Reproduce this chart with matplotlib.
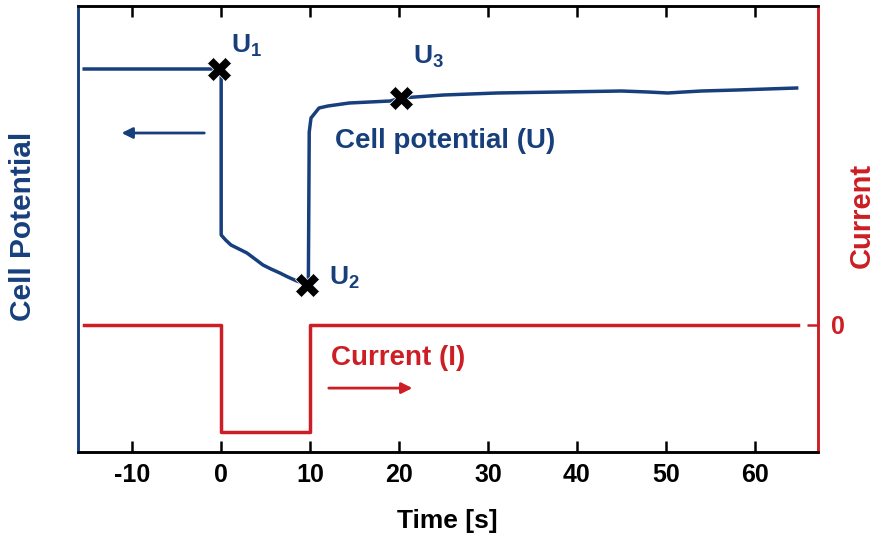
import matplotlib.pyplot as plt

plt.rcParams['font.family'] = ['Liberation Sans', 'DejaVu Sans']
plt.rcParams['font.weight'] = 'bold'
plt.rcParams['axes.unicode_minus'] = False
plt.rcParams['mathtext.fontset'] = 'custom'
plt.rcParams['mathtext.rm'] = 'Liberation Sans:bold'
plt.rcParams['mathtext.bf'] = 'Liberation Sans:bold'
plt.rcParams['mathtext.it'] = 'Liberation Sans:bold'

BLUE = '#173f7c'
RED = '#cc1e24'

## cell potential (arbitrary units)
t_pot = [-15.4, -10.0, -5.0, -0.3, 0.0, 0.0, 0.5, 1.1, 2.0, 2.9, 3.8, 4.7, 5.6,
         6.6, 7.5, 8.5, 9.2, 9.8, 9.9,
         10.1, 11.0, 12.0, 14.4, 19.0, 20.2, 25.0, 31.0, 38.0, 45.0, 48.0, 50.2,
         52.0, 54.0, 58.0, 64.7]
u_pot = [3.83, 3.83, 3.83, 3.83, 3.83, 2.17, 2.12, 2.07, 2.03, 1.99, 1.93, 1.87,
         1.83, 1.79, 1.75, 1.71, 1.69, 1.67,
         3.20, 3.34, 3.44, 3.46, 3.49, 3.51, 3.54, 3.57, 3.59, 3.60, 3.61, 3.60,
         3.59, 3.60, 3.61, 3.62, 3.64]

## current pulse
t_cur = [-15.4, 0.0, 0.0, 10.0, 10.0, 64.8]
i_cur = [0.0, 0.0, -1.0, -1.0, 0.0, 0.0]

## marked points U1, U2, U3
t_mark = [-0.3, 9.7, 20.2]
u_mark = [3.83, 1.67, 3.54]

fig = plt.figure(figsize=(8.81, 5.46), dpi=100)
ax = fig.add_axes([0.0885, 0.1722, 0.84, 0.8168])
ax2 = ax.twinx()

ax.plot(t_pot, u_pot, color=BLUE, lw=2.5, zorder=3)
ax.plot(t_mark, u_mark, 'X', color='black', ms=17, mec='white', mew=0.5, zorder=5)
ax2.plot(t_cur, i_cur, color=RED, lw=2.5)

ax.set_xlim(-16.1, 67.1)
ax.set_ylim(0, 4.46)
ax2.set_ylim(-1.187, 2.981)

ax.set_xticks([-10, 0, 10, 20, 30, 40, 50, 60])
ax.tick_params(axis='x', direction='in', top=True, length=8, width=1.8,
               labelsize=18, pad=8, colors='black')
ax.tick_params(axis='y', left=False, labelleft=False)
ax2.set_yticks([0])
ax2.tick_params(axis='y', direction='in', length=8, width=1.8, colors=RED,
                labelsize=18, pad=9)

for a in (ax, ax2):
    a.spines['left'].set_color(BLUE)
    a.spines['right'].set_color(RED)
    a.spines['top'].set_color('black')
    a.spines['bottom'].set_color('black')
    for s in a.spines.values():
        s.set_linewidth(1.8)

# axis titles
fig.text(447 / 881, 1 - 521 / 546, 'Time [s]', fontsize=19, fontweight='bold',
         ha='center', va='center')
fig.text(23 / 881, 1 - 226 / 546, 'Cell Potential', fontsize=21.5, fontweight='bold',
         color=BLUE, rotation=90, ha='center', va='center')
fig.text(862 / 881, 1 - 215 / 546, 'Current', fontsize=21, fontweight='bold',
         color=RED, rotation=90, ha='center', va='center')

# point labels
ax.text(1.1, 4.06, r'$\mathbf{U_1}$', color=BLUE, fontsize=19, va='center')
ax.text(12.1, 1.74, r'$\mathbf{U_2}$', color=BLUE, fontsize=19, va='center')
ax.text(21.6, 3.95, r'$\mathbf{U_3}$', color=BLUE, fontsize=19, va='center')

ax.text(12.8, 3.11, 'Cell potential (U)', color=BLUE, fontsize=20, va='center')
ax2.text(12.3, -0.31, 'Current (I)', color=RED, fontsize=20, va='center')

ax.annotate('', xy=(-11.2, 3.19), xytext=(-1.9, 3.19),
            arrowprops=dict(arrowstyle='-|>', color=BLUE, lw=2,
                            mutation_scale=16, shrinkA=0, shrinkB=0))
ax2.annotate('', xy=(21.5, -0.59), xytext=(12.1, -0.59),
             arrowprops=dict(arrowstyle='-|>', color=RED, lw=2,
                             mutation_scale=16, shrinkA=0, shrinkB=0))

fig.savefig('out.png', dpi=100)
